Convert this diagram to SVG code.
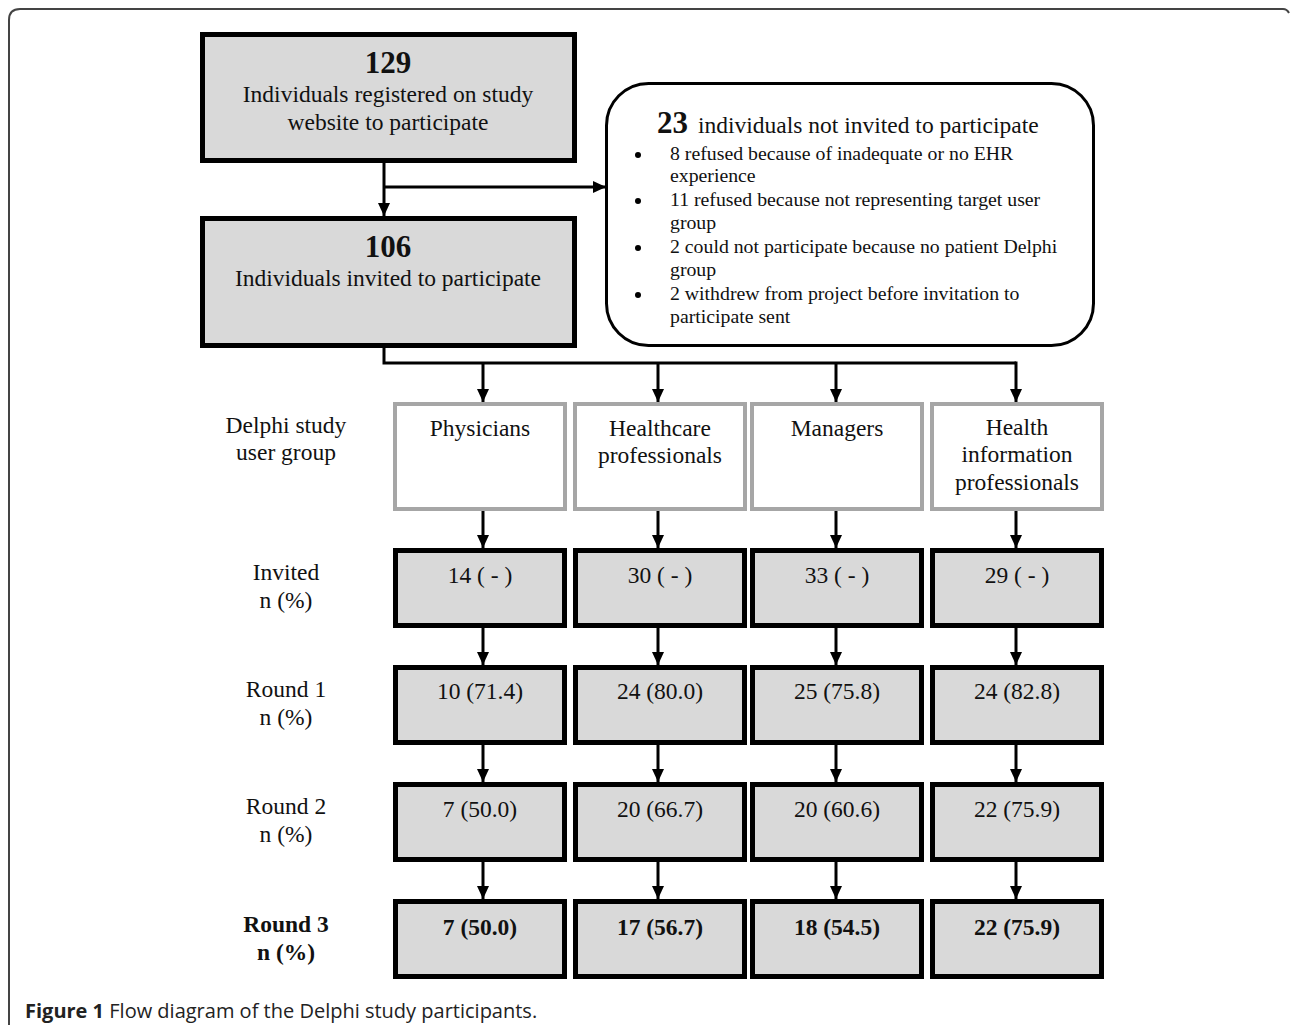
<svg xmlns="http://www.w3.org/2000/svg" width="1290" height="1025" viewBox="0 0 1290 1025">
<defs>
<marker id="ah" markerUnits="userSpaceOnUse" markerWidth="14" markerHeight="14" refX="13" refY="7" orient="auto">
<path d="M0,1 L13,7 L0,13 Z" fill="#000"/>
</marker>
<style>
.t{font-family:"Liberation Serif","Times New Roman",serif;fill:#111;font-size:23.5px;}
.c{text-anchor:middle;}
.b{font-weight:bold;}
.h{font-size:31px;}
.s{font-size:19.8px;}
.dark{fill:#d9d9d9;stroke:#000;stroke-width:5;}
.grp{fill:#fff;stroke:#a6a6a6;stroke-width:4;}
.ln{fill:none;stroke:#000;stroke-width:3;}
.ar{fill:none;stroke:#000;stroke-width:3;marker-end:url(#ah);}
</style>
</defs>
<rect width="1290" height="1025" fill="#fff"/>
<path d="M9,1025 V20 Q9,9 20,9 H1283 Q1287,9 1289,13" fill="none" stroke="#444" stroke-width="2"/>

<g id="n129">
<rect class="dark" x="202.5" y="34.5" width="372" height="126"/>
<text class="t c b h" x="388" y="73">129</text>
<text class="t c" x="388" y="102">Individuals registered on study</text>
<text class="t c" x="388" y="130">website to participate</text>
</g>
<g id="n106">
<rect class="dark" x="202.5" y="218.5" width="372" height="127"/>
<text class="t c b h" x="388" y="257">106</text>
<text class="t c" x="388" y="286">Individuals invited to participate</text>
</g>
<g id="n23">
<rect x="606.5" y="83.5" width="487" height="262" rx="42" ry="42" fill="#fff" stroke="#000" stroke-width="3"/>
<text class="t" x="657" y="133"><tspan font-size="31" font-weight="bold">23</tspan><tspan x="698">individuals not invited to participate</tspan></text>
<circle cx="638" cy="155" r="3" fill="#000"/>
<text class="t s" x="670" y="160">8 refused because of inadequate or no EHR</text>
<text class="t s" x="670" y="182">experience</text>
<circle cx="638" cy="201" r="3" fill="#000"/>
<text class="t s" x="670" y="206">11 refused because not representing target user</text>
<text class="t s" x="670" y="229">group</text>
<circle cx="638" cy="248" r="3" fill="#000"/>
<text class="t s" x="670" y="253">2 could not participate because no patient Delphi</text>
<text class="t s" x="670" y="276">group</text>
<circle cx="638" cy="295" r="3" fill="#000"/>
<text class="t s" x="670" y="300">2 withdrew from project before invitation to</text>
<text class="t s" x="670" y="323">participate sent</text>
</g>

<g id="labels">
<text class="t c" x="286" y="433">Delphi study</text>
<text class="t c" x="286" y="460">user group</text>
<text class="t c" x="286" y="580">Invited</text>
<text class="t c" x="286" y="608">n (%)</text>
<text class="t c" x="286" y="697">Round 1</text>
<text class="t c" x="286" y="725">n (%)</text>
<text class="t c" x="286" y="814">Round 2</text>
<text class="t c" x="286" y="842">n (%)</text>
<text class="t c b" x="286" y="932">Round 3</text>
<text class="t c b" x="286" y="960">n (%)</text>
</g>

<g id="g-physicians">
<rect class="grp" x="395" y="404" width="170" height="105"/>
<text class="t c" x="480" y="436">Physicians</text>
</g>
<g id="g-healthcare">
<rect class="grp" x="575" y="404" width="170" height="105"/>
<text class="t c" x="660" y="436">Healthcare</text>
<text class="t c" x="660" y="463">professionals</text>
</g>
<g id="g-managers">
<rect class="grp" x="752" y="404" width="170" height="105"/>
<text class="t c" x="837" y="436">Managers</text>
</g>
<g id="g-hip">
<rect class="grp" x="932" y="404" width="170" height="105"/>
<text class="t c" x="1017" y="435">Health</text>
<text class="t c" x="1017" y="462">information</text>
<text class="t c" x="1017" y="490">professionals</text>
</g>

<g id="row-invited">
<rect class="dark" x="395.5" y="550.5" width="169" height="75"/>
<rect class="dark" x="575.5" y="550.5" width="169" height="75"/>
<rect class="dark" x="752.5" y="550.5" width="169" height="75"/>
<rect class="dark" x="932.5" y="550.5" width="169" height="75"/>
<text class="t c" x="480" y="583">14 ( - )</text>
<text class="t c" x="660" y="583">30 ( - )</text>
<text class="t c" x="837" y="583">33 ( - )</text>
<text class="t c" x="1017" y="583">29 ( - )</text>
</g>
<g id="row-round1">
<rect class="dark" x="395.5" y="667.5" width="169" height="75"/>
<rect class="dark" x="575.5" y="667.5" width="169" height="75"/>
<rect class="dark" x="752.5" y="667.5" width="169" height="75"/>
<rect class="dark" x="932.5" y="667.5" width="169" height="75"/>
<text class="t c" x="480" y="699">10 (71.4)</text>
<text class="t c" x="660" y="699">24 (80.0)</text>
<text class="t c" x="837" y="699">25 (75.8)</text>
<text class="t c" x="1017" y="699">24 (82.8)</text>
</g>
<g id="row-round2">
<rect class="dark" x="395.5" y="784.5" width="169" height="75"/>
<rect class="dark" x="575.5" y="784.5" width="169" height="75"/>
<rect class="dark" x="752.5" y="784.5" width="169" height="75"/>
<rect class="dark" x="932.5" y="784.5" width="169" height="75"/>
<text class="t c" x="480" y="817">7 (50.0)</text>
<text class="t c" x="660" y="817">20 (66.7)</text>
<text class="t c" x="837" y="817">20 (60.6)</text>
<text class="t c" x="1017" y="817">22 (75.9)</text>
</g>
<g id="row-round3">
<rect class="dark" x="395.5" y="901.5" width="169" height="75"/>
<rect class="dark" x="575.5" y="901.5" width="169" height="75"/>
<rect class="dark" x="752.5" y="901.5" width="169" height="75"/>
<rect class="dark" x="932.5" y="901.5" width="169" height="75"/>
<text class="t c b" x="480" y="935">7 (50.0)</text>
<text class="t c b" x="660" y="935">17 (56.7)</text>
<text class="t c b" x="837" y="935">18 (54.5)</text>
<text class="t c b" x="1017" y="935">22 (75.9)</text>
</g>

<g id="connectors">
<path class="ar" d="M384,163 V216"/>
<path class="ar" d="M384,187 H606"/>
<path class="ln" d="M384,348 V363 H1016"/>
<path class="ar" d="M483,363 V402"/>
<path class="ar" d="M658,363 V402"/>
<path class="ar" d="M836,363 V402"/>
<path class="ar" d="M1016,361.5 V402"/>
<path class="ar" d="M483,511 V548"/>
<path class="ar" d="M658,511 V548"/>
<path class="ar" d="M836,511 V548"/>
<path class="ar" d="M1016,511 V548"/>
<path class="ar" d="M483,628 V665"/>
<path class="ar" d="M658,628 V665"/>
<path class="ar" d="M836,628 V665"/>
<path class="ar" d="M1016,628 V665"/>
<path class="ar" d="M483,745 V782"/>
<path class="ar" d="M658,745 V782"/>
<path class="ar" d="M836,745 V782"/>
<path class="ar" d="M1016,745 V782"/>
<path class="ar" d="M483,862 V899"/>
<path class="ar" d="M658,862 V899"/>
<path class="ar" d="M836,862 V899"/>
<path class="ar" d="M1016,862 V899"/>
</g>

<text x="25" y="1018" font-family="'Open Sans','Liberation Sans',sans-serif" font-size="20" fill="#222"><tspan font-weight="bold">Figure 1</tspan> Flow diagram of the Delphi study participants.</text>
</svg>
